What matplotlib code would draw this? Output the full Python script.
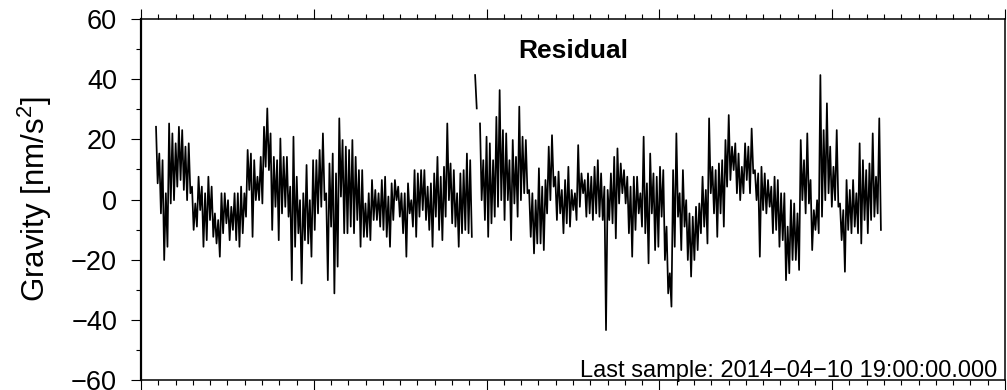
import numpy as np
import matplotlib.pyplot as plt
from matplotlib.ticker import MultipleLocator

plt.rcParams['font.family'] = ['Liberation Sans', 'DejaVu Sans']
plt.rcParams['mathtext.default'] = 'regular'

residual = [
    24.2, 5.4, 15.3, -4.6, 13.1, -20.1, 2.1, -15.7, 25.3, -1.3, 22.0, -0.2, 18.7, 4.3,
    24.2, 6.5, 23.1, 3.2, 17.6, -0.2, 18.7, 2.1, 4.3, -10.1, -1.3, -9.0, 7.6, -3.5,
    4.3, -15.7, 2.1, -13.5, 7.6, -6.8, 4.3, -12.4, -4.6, -14.6, -6.8, -19.0, 2.1, -11.2,
    2.1, -7.9, -0.2, -13.5, -2.4, -10.1, 2.1, -13.5, 2.1, -15.7, 4.3, -11.2, 2.1, -5.7,
    16.5, 3.2, 15.3, -12.4, 13.1, -0.2, 7.6, -0.2, 14.2, -1.3, 24.2, 10.9, 30.3, 9.8,
    22.0, -10.1, 14.2, -2.4,
    13.1, -13.5, 20.3, -4.6, 14.2, -2.4, 14.2, -5.7, 4.3, -26.8, 20.9, -15.7, 7.6, -11.2,
    -0.2, -27.9, 2.1, -13.5, 11.5, -14.6, -0.2, -19.0, 13.1, -10.1, 13.1, -4.6, 16.5, -2.4,
    22.0, -0.2, 2.1, -26.8, 12.0, -9.0, 15.3, -31.2, 8.7, -22.3, 27.0, 1.0, 19.8, -11.2,
    17.6, -11.2, 16.5, -9.0, 19.8, -11.2, 14.2, -6.8, 9.8, -15.7, 9.8, -12.4, -1.3, -12.4,
    2.1, -13.5, 6.5, -6.8, 3.2, -6.8, 2.1, -9.0, 6.5, -10.1, 7.6, -12.4, 1.0, -15.7,
    5.4, -6.8, 6.5, -0.2,
    4.3, -5.7, 2.1, -11.2, 2.1, -19.0, 5.4, -4.6, -0.2, -9.0, 9.8, -12.4, 8.7, -5.7,
    9.8, -3.5, 9.8, -6.8, 4.3, -10.1, 5.4, -15.7, 8.7, -5.7, 14.2, -10.1, 7.6, -13.5,
    10.9, -5.7, 25.3, -0.2, 12.0, -7.9, 9.8, -9.0, 2.1, -15.7, 8.7, -11.2, 9.8, -10.1,
    15.3, -11.2, 13.1, -12.4, np.nan, 41.4, 30.3, np.nan, 25.3, -0.2, 13.1, -6.8,
    20.9, -12.4, 18.7, -7.9, 13.1, -5.7, 27.5, -2.4, 36.4, -0.2, 23.1, -6.8, 22.0, -0.2,
    13.1, -13.5, 19.8, -1.3, 14.2, -5.7, 30.9, -0.2, 20.9, 2.1,
    19.8, 2.1, 3.2, -12.4, 2.1, -17.9, -0.2, -14.6, 10.4, -14.6, 4.3, -16.8, 6.5, -4.6,
    17.6, -0.2, 21.4, 4.3, 7.6, -6.8, 9.3, -4.6, 3.2, -11.2, 6.5, -7.9, 10.9, -9.0,
    3.2, -3.5, 2.1, -6.8, 18.1, -2.4, 8.7, 2.1, 6.5, -5.7, 8.7, -4.6, 7.6, -6.8,
    10.9, -4.6, 13.1, -5.7, 8.7, -6.8, 4.3, -43.4, 3.2, -6.8, 8.7, -7.9, 14.2, -12.9,
    17.0, -1.3, 12.0, 2.1, 9.8, -1.3, 7.6, -11.2, 4.3, -19.0, 7.6, -10.1, 7.6, -4.6,
    2.1, -9.0, 20.9, -11.2, 5.4, -21.2,
    15.3, -4.6, 8.7, -16.8, 7.6, -15.7, 10.9, -5.7, 9.8, -20.1, -9.0, -31.2, -24.5, -35.6,
    9.8, -15.7, 22.0, -5.7, 2.1, -16.8, 9.8, -9.0, -0.2, -20.1, -4.6, -25.6, -5.7, -20.1,
    -2.4, -16.8, -1.3, -11.2, 7.6, -9.0, 3.2, -14.6, 27.0, 2.1, 10.9, -4.6, 9.8, -12.4,
    12.0, -4.6, 13.1, -9.0, 19.8, 4.3, 28.1, 6.5, 17.6, 9.8, 18.7, 2.1, 15.3, -0.2,
    10.9, 2.1, 18.7, 6.5, 17.6, 2.1, 23.6, 8.7, 9.8, -0.2, 8.7, -19.0, 10.9, -3.5,
    8.7, -4.6, 6.5, -2.4, 4.3, -11.2,
    7.6, -10.1, 6.5, -15.7, 2.1, -13.5, 2.1, -26.8, -9.0, -24.5, -0.2, -20.1, -1.3, -20.1,
    -4.6, -23.4, 19.8, -0.2, 13.1, -4.6, 22.0, -1.3, 6.5, -16.8, -3.5, -10.1, -0.2, -11.2,
    41.4, -5.7, 23.1, -0.2, 32.0, 2.1, 17.6, -2.4, 10.9, -0.2, 23.1, -2.4, -1.3, -13.5,
    -3.5, -24.0, 6.5, -10.1, 3.2, -11.2, 6.5, -9.0, 2.1, -11.2, 18.7, -14.6, 13.1, -6.8,
    9.8, -11.2, 12.0, -6.8, 22.0, -5.7, 7.6, -4.6, 27.0, -10.1,
]

# time span of the record, in days from the left edge of the plot
t_first = 0.087
t_last = 4.282
t_range = (0, 5)
y_range = (-60, 60)
last_sample = 'Last sample: 2014\u221204\u221210 19:00:00.000'


def main():
    t = np.linspace(t_first, t_last, len(residual))

    fig = plt.figure(figsize=(10.07, 3.9), dpi=100)
    ax = fig.add_axes([0.140, 0.0256, 0.858, 0.9254])

    ax.plot(t, residual, color='black', linewidth=1.25)

    ax.set_xlim(*t_range)
    ax.set_ylim(*y_range)

    ax.xaxis.set_major_locator(MultipleLocator(1))
    ax.xaxis.set_minor_locator(MultipleLocator(0.1))
    ax.yaxis.set_major_locator(MultipleLocator(20))
    ax.yaxis.set_minor_locator(MultipleLocator(10))
    ax.tick_params(axis='x', which='both', direction='out', top=True, bottom=True,
                   labelbottom=False)
    ax.tick_params(axis='y', which='both', direction='out', left=True, right=False,
                   labelsize=19.5, pad=10)
    ax.tick_params(which='major', length=7.2, width=0.8)
    ax.tick_params(which='minor', length=3.6, width=0.8)
    for s in ax.spines.values():
        s.set_linewidth(1.1)
    ax.spines['left'].set_linewidth(1.6)

    ax.set_ylabel('Gravity [nm/s$^{2}$]', fontsize=22.5, labelpad=12)

    ax.text(0.5, 0.892, 'Residual', transform=ax.transAxes, ha='center',
            va='baseline', fontsize=19, fontweight='bold')
    ax.text(0.9907, 0.008, last_sample, transform=ax.transAxes, ha='right',
            va='baseline', fontsize=17)

    fig.savefig('out.png', dpi=100)
    plt.close(fig)


if __name__ == '__main__':
    main()
